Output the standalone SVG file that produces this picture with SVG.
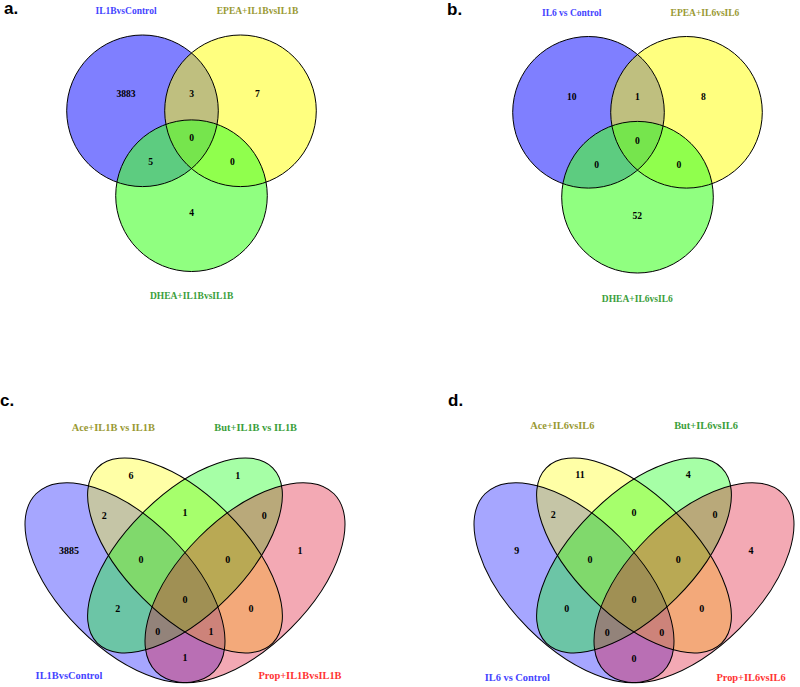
<svg xmlns="http://www.w3.org/2000/svg" width="800" height="687" viewBox="0 0 800 687">
<style>
.bg{fill:#ffffff}
.pl{font-family:"Liberation Sans",Arial,sans-serif;font-weight:bold;font-size:17px;fill:#000}
.n{font-family:"Liberation Serif","Times New Roman",serif;font-weight:bold;text-anchor:middle;fill:#000}
.n3{font-size:9.6px}
.n4{font-size:10px}
.cl{font-family:"Liberation Serif","Times New Roman",serif;font-weight:bold;text-anchor:middle}
.c3{font-size:9.5px}
.c4{font-size:10.4px}
.out{fill:none;stroke:#000;stroke-width:1}
.f3{fill-opacity:0.5;stroke:none}
.g3{fill-opacity:0.6;stroke:none}
.f4{fill-opacity:0.35;stroke:none}
.tb{fill:#4444ff}
.to{fill:#999933}
.tg{fill:#3a9e3a}
.tr{fill:#ff3333}
</style>
<defs>
<circle id="c" r="75.8"/>
<ellipse id="e" rx="124" ry="60"/>
<ellipse id="eo" rx="125.8" ry="64.6"/>
</defs>
<rect class="bg" x="0" y="0" width="800" height="687"/>

<!-- Panel a -->
<g id="panel-a">
<text class="pl" x="4" y="13.5">a.</text>
<g id="a-IL1BvsControl"><use href="#c" x="142.5" y="110.8" class="f3" fill="#0000ff"/></g>
<g id="a-EPEA"><use href="#c" x="240.5" y="110.8" class="f3" fill="#ffff00"/></g>
<g id="a-DHEA"><use href="#c" x="191.5" y="195.7" class="g3" fill="#46ff2b"/></g>
<g id="a-outlines">
<use href="#c" x="142.5" y="110.8" class="out"/>
<use href="#c" x="240.5" y="110.8" class="out"/>
<use href="#c" x="191.5" y="195.7" class="out"/>
</g>
<text class="cl c3 tb" x="126" y="14.3">IL1BvsControl</text>
<text class="cl c3 to" x="257.5" y="14.3">EPEA+IL1BvsIL1B</text>
<text class="cl c3 tg" x="191.7" y="299">DHEA+IL1BvsIL1B</text>
<g class="n n3">
<text x="126" y="97.3">3883</text>
<text x="191.7" y="97.3">3</text>
<text x="257.3" y="97.3">7</text>
<text x="191.7" y="141">0</text>
<text x="150.7" y="165.3">5</text>
<text x="232.3" y="165.3">0</text>
<text x="191.7" y="215.5">4</text>
</g>
</g>

<!-- Panel b -->
<g id="panel-b">
<text class="pl" x="447" y="14.5">b.</text>
<g id="b-IL6vsControl"><use href="#c" x="588.5" y="112.3" class="f3" fill="#0000ff"/></g>
<g id="b-EPEA"><use href="#c" x="686.5" y="112.3" class="f3" fill="#ffff00"/></g>
<g id="b-DHEA"><use href="#c" x="637.5" y="197.2" class="g3" fill="#46ff2b"/></g>
<g id="b-outlines">
<use href="#c" x="588.5" y="112.3" class="out"/>
<use href="#c" x="686.5" y="112.3" class="out"/>
<use href="#c" x="637.5" y="197.2" class="out"/>
</g>
<text class="cl c3 tb" x="571.7" y="16">IL6 vs Control</text>
<text class="cl c3 to" x="705" y="16">EPEA+IL6vsIL6</text>
<text class="cl c3 tg" x="637.3" y="301.5">DHEA+IL6vsIL6</text>
<g class="n n3">
<text x="571.7" y="100">10</text>
<text x="637.3" y="100">1</text>
<text x="703.3" y="100">8</text>
<text x="637.3" y="144">0</text>
<text x="596.7" y="167.5">0</text>
<text x="679" y="167.5">0</text>
<text x="637.3" y="219">52</text>
</g>
</g>

<!-- Panel c -->
<g id="panel-c">
<text class="pl" x="0" y="405.7">c.</text>
<g id="c-IL1BvsControl"><use href="#eo" transform="translate(125,582.7) rotate(45)" class="f4" fill="#0000ff"/></g>
<g id="c-Ace"><use href="#e" transform="translate(185,555.5) rotate(45)" class="f4" fill="#ffff00"/></g>
<g id="c-But"><use href="#e" transform="translate(185,555.5) rotate(-45)" class="f4" fill="#00ff00"/></g>
<g id="c-Prop"><use href="#eo" transform="translate(245,582.7) rotate(-45)" class="f4" fill="#dc0a28"/></g>
<g id="c-outlines">
<use href="#eo" transform="translate(125,582.7) rotate(45)" class="out"/>
<use href="#e" transform="translate(185,555.5) rotate(45)" class="out"/>
<use href="#e" transform="translate(185,555.5) rotate(-45)" class="out"/>
<use href="#eo" transform="translate(245,582.7) rotate(-45)" class="out"/>
</g>
<text class="cl c4 to" x="113.3" y="430.5">Ace+IL1B vs IL1B</text>
<text class="cl c4 tg" x="255.7" y="430.5">But+IL1B vs IL1B</text>
<text class="cl c4 tb" x="69" y="679">IL1BvsControl</text>
<text class="cl c4 tr" x="300" y="679">Prop+IL1BvsIL1B</text>
<g class="n n4">
<text x="131" y="479">6</text>
<text x="237.7" y="479">1</text>
<text x="104.3" y="518.5">2</text>
<text x="185" y="516">1</text>
<text x="264.3" y="518.5">0</text>
<text x="69" y="554">3885</text>
<text x="300" y="554">1</text>
<text x="141" y="562.6">0</text>
<text x="227.7" y="562.6">0</text>
<text x="185" y="602.6">0</text>
<text x="117.7" y="611.6">2</text>
<text x="251" y="611.6">0</text>
<text x="157.7" y="635">0</text>
<text x="211" y="635">1</text>
<text x="185" y="661">1</text>
</g>
</g>

<!-- Panel d -->
<g id="panel-d">
<text class="pl" x="448" y="405.7">d.</text>
<g id="d-IL6vsControl"><use href="#eo" transform="translate(574,582.7) rotate(45)" class="f4" fill="#0000ff"/></g>
<g id="d-Ace"><use href="#e" transform="translate(634,555.5) rotate(45)" class="f4" fill="#ffff00"/></g>
<g id="d-But"><use href="#e" transform="translate(634,555.5) rotate(-45)" class="f4" fill="#00ff00"/></g>
<g id="d-Prop"><use href="#eo" transform="translate(694,582.7) rotate(-45)" class="f4" fill="#dc0a28"/></g>
<g id="d-outlines">
<use href="#eo" transform="translate(574,582.7) rotate(45)" class="out"/>
<use href="#e" transform="translate(634,555.5) rotate(45)" class="out"/>
<use href="#e" transform="translate(634,555.5) rotate(-45)" class="out"/>
<use href="#eo" transform="translate(694,582.7) rotate(-45)" class="out"/>
</g>
<text class="cl c4 to" x="562.3" y="429">Ace+IL6vsIL6</text>
<text class="cl c4 tg" x="706" y="429">But+IL6vsIL6</text>
<text class="cl c4 tb" x="517.3" y="680.5">IL6 vs Control</text>
<text class="cl c4 tr" x="751" y="680.5">Prop+IL6vsIL6</text>
<g class="n n4">
<text x="580" y="477.6">11</text>
<text x="688.3" y="477.6">4</text>
<text x="553.3" y="518.3">2</text>
<text x="634" y="515.6">0</text>
<text x="715" y="518.3">0</text>
<text x="516.7" y="554">9</text>
<text x="751" y="554">4</text>
<text x="590" y="562.6">0</text>
<text x="678.3" y="562.6">0</text>
<text x="634" y="602.6">0</text>
<text x="566.7" y="612.3">0</text>
<text x="701.7" y="612.3">0</text>
<text x="607.3" y="636">0</text>
<text x="661.7" y="636">0</text>
<text x="634" y="661.6">0</text>
</g>
</g>
</svg>
